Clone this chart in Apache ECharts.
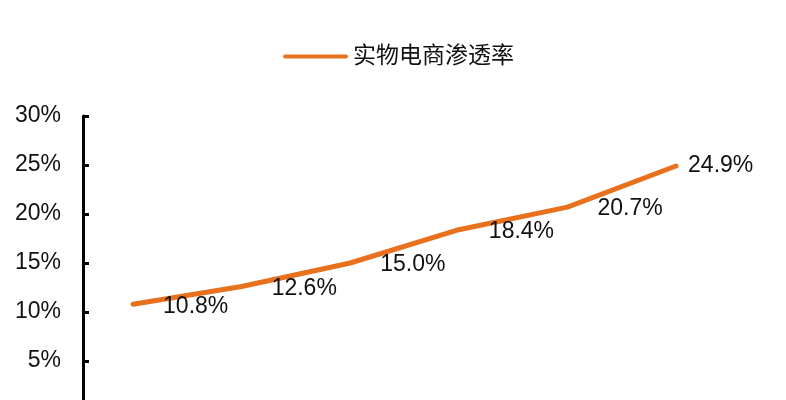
<!DOCTYPE html>
<html>
<head>
<meta charset="utf-8">
<script src="https://cdn.jsdelivr.net/npm/echarts@6/dist/echarts.min.js"></script>
<style>html,body{margin:0;padding:0;background:#fff;overflow:hidden;}#c{width:786px;height:440px;}</style>
</head>
<body>
<div id="c"></div>
<script>
const categories = ['2016', '2017', '2018', '2019', '2020', '2021'];
const seriesName = '实物电商渗透率';
const values = [10.8, 12.6, 15.0, 18.4, 20.7, 24.9];
const yTicks = [0, 5, 10, 15, 20, 25, 30];

const chart = echarts.init(document.getElementById('c'), null, {renderer: 'canvas'});
const font = '"Liberation Sans", Arial, "Noto Sans CJK SC", sans-serif';
const orange = '#E8711E';

chart.setOption({
  animation: false,
  backgroundColor: '#fff',
  textStyle: {fontFamily: font},
  legend: {
    left: 278, top: 40,
    itemWidth: 65, itemHeight: 10,
    textStyle: {fontSize: 23, color: '#111', fontFamily: font},
    data: [{name: seriesName, icon: 'path://M2,0 L63,0 A2,2 0 0 1 63,4 L2,4 A2,2 0 0 1 2,0 Z'}]
  },
  grid: {left: 133, right: 110, top: 116, height: 294},
  xAxis: {
    type: 'category',
    data: categories,
    boundaryGap: false,
    show: false
  },
  yAxis: {
    type: 'value',
    min: yTicks[0], max: yTicks[yTicks.length - 1], interval: 5,
    offset: 50,
    axisLine: {show: true, lineStyle: {color: '#000', width: 3}},
    axisTick: {show: true, inside: true, length: 6, lineStyle: {color: '#000', width: 3}},
    splitLine: {show: false},
    axisLabel: {formatter: '{value}%', fontSize: 23, color: '#111', margin: 22, fontFamily: font, showMinLabel: false}
  },
  series: [{
    name: seriesName,
    type: 'line',
    data: values.map((v, i) => ({
      value: v,
      label: {distance: i === values.length - 1 ? 12 : 30, offset: [0, i === values.length - 1 ? 0 : 2]}
    })),
    symbol: 'circle',
    symbolSize: 0.1,
    showSymbol: true,
    itemStyle: {color: orange},
    lineStyle: {color: orange, width: 5, cap: 'round', join: 'round'},
    label: {
      show: true, position: 'right',
      formatter: p => p.value.toFixed(1) + '%',
      fontSize: 23, color: '#111', fontFamily: font
    }
  }]
});
</script>
</body>
</html>
